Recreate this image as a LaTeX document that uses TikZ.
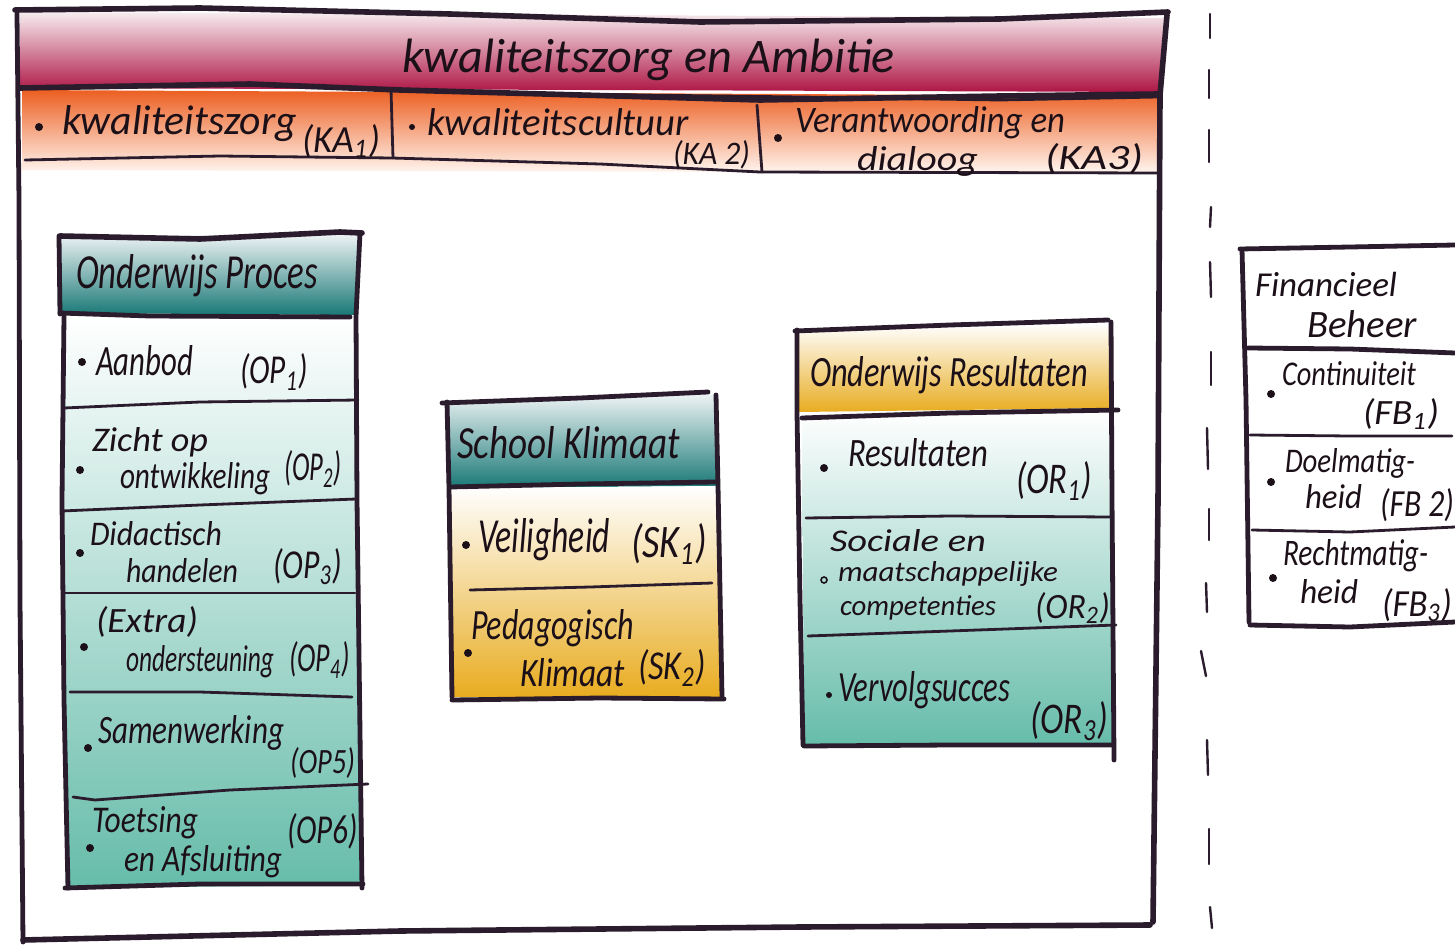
\documentclass[tikz,border=0pt]{standalone}
\usepackage{fontspec}
\usepackage{graphicx}
\setmainfont{Carlito}
\newdimen\pxu \pxu=0.5pt
\newcommand{\fitw}[2]{\resizebox{#1\pxu}{!}{#2}}
\newcommand{\fitwh}[3]{\resizebox{#1\pxu}{#2\pxu}{#3}}
\newcommand{\sbs}[1]{\textsubscript{#1}}
\definecolor{ink}{HTML}{2A1C2C}
\definecolor{textink}{HTML}{1C1018}
\definecolor{crimson}{HTML}{AE1545}
\definecolor{pinktop}{HTML}{F7EDF0}
\definecolor{orangetop}{HTML}{EC5F22}
\definecolor{orangebot}{HTML}{FFF6F0}
\definecolor{tealdark}{HTML}{187876}
\definecolor{tealtop}{HTML}{EEF3F4}
\definecolor{tealbody}{HTML}{66BCAA}
\definecolor{amber}{HTML}{E8AC20}
\tikzset{
  ink/.style={draw=ink,line width=2.4pt,line cap=round,line join=round},
  inkthin/.style={draw=ink,line width=1.4pt,line cap=round,line join=round},
  inkfat/.style={draw=ink,line width=2.8pt,line cap=round,line join=round},
  hw/.style={anchor=west,inner sep=0pt,outer sep=0pt,text=textink,font=\itshape},
  bul/.style={circle,fill=textink,inner sep=0pt,minimum size=4pt},
  dashmark/.style={draw=ink,line width=1.2pt,line cap=round}
}
\begin{document}
\begin{tikzpicture}[x=0.5pt,y=-0.5pt]
\useasboundingbox (0,0) rectangle (1455,947);
\fill[white] (0,0) rectangle (1455,947);
% colour bands
\shade[top color=pinktop,bottom color=crimson] (20,12) -- (1165,18) -- (1160,92) -- (20,88) -- cycle;
\shade[top color=orangetop,bottom color=orangebot] (22,90) -- (1158,96) -- (1158,173) -- (22,170) -- cycle;
\shade[top color=tealtop,bottom color=tealdark] (60,236) -- (360,234) -- (358,315) -- (60,313) -- cycle;
\shade[top color=white,middle color=white!72!tealbody,bottom color=tealbody] (64,316) -- (357,316) -- (362,885) -- (66,888) -- cycle;
\shade[top color=tealtop,bottom color=tealdark] (447,402) -- (716,394) -- (718,486) -- (449,488) -- cycle;
\shade[top color=white,bottom color=amber] (450,488) -- (718,486) -- (722,697) -- (452,697) -- cycle;
\shade[top color=white,bottom color=amber] (797,332) -- (1110,324) -- (1110,408) -- (799,412) -- cycle;
\shade[top color=white,bottom color=tealbody] (802,414) -- (1112,410) -- (1113,745) -- (804,745) -- cycle;
% outer frame
\draw[inkfat] (15,10) -- (200,8) -- (450,14) -- (700,22) -- (1000,19) -- (1168,12);
\draw[ink] (17,14) -- (19,200) -- (20,600) -- (23,942);
\draw[inkfat] (1167,15) -- (1160,95) -- (1158,500) -- (1153,922);
\draw[inkfat] (23,940) -- (400,931) -- (800,927) -- (1150,925);
\draw[inkfat] (20,88) -- (250,84) -- (400,90) -- (760,100) -- (1000,96) -- (1158,94);
\draw[inkthin] (560,94) -- (800,97) -- (1000,100) -- (1158,97);
\draw[inkthin] (25,160) -- (220,156) -- (392,158) -- (600,164) -- (760,172) -- (1158,173);
\draw[inkthin] (391,90) -- (393,158);
\draw[inkthin] (757,105) -- (762,172);
% dashed separator
\draw[dashmark] (1210,14) -- (1210,38);
\draw[dashmark] (1209,70) -- (1209,98);
\draw[dashmark] (1209,130) -- (1209,162);
\draw[dashmark] (1211,207) -- (1210,227);
\draw[dashmark] (1210,262) -- (1211,297);
\draw[dashmark] (1211,352) -- (1211,385);
\draw[dashmark] (1207,428) -- (1208,469);
\draw[dashmark] (1209,509) -- (1209,540);
\draw[dashmark] (1206,583) -- (1207,612);
\draw[dashmark] (1201,651) -- (1206,676);
\draw[dashmark] (1207,740) -- (1208,775);
\draw[dashmark] (1209,829) -- (1209,864);
\draw[dashmark] (1210,907) -- (1212,928);
% Onderwijs Proces box
\draw[inkfat] (60,236) -- (200,239) -- (340,232) -- (362,233);
\draw[ink] (59,236) -- (60,314) ;
\draw[ink] (360,233) -- (356,316) -- (357,500) -- (362,888);
\draw[ink] (64,316) -- (62,500) -- (64,700) -- (68,888);
\draw[ink] (60,313) -- (150,316) -- (350,317);
\draw[inkthin] (64,408) -- (200,402) -- (358,400);
\draw[inkthin] (62,511) -- (200,505) -- (356,499);
\draw[inkthin] (62,593) -- (200,593) -- (355,593);
\draw[inkthin] (70,692) -- (200,692) -- (352,697);
\draw[inkthin] (73,797) -- (95,800) -- (230,790) -- (368,784);
\draw[ink] (65,888) -- (200,884) -- (363,884);
% School Klimaat box
\draw[ink] (442,403) -- (580,398) -- (708,392);
\draw[ink] (447,402) -- (449,488) -- (452,697);
\draw[ink] (716,395) -- (718,486) -- (722,697);
\draw[ink] (450,487) -- (580,484) -- (715,482);
\draw[inkthin] (470,590) -- (590,587) -- (712,583);
\draw[ink] (452,700) -- (600,698) -- (724,699);
% Onderwijs Resultaten box
\draw[ink] (795,331) -- (950,325) -- (1108,320);
\draw[ink] (797,330) -- (797,412) -- (800,600) -- (803,745);
\draw[ink] (1111,322) -- (1112,500) -- (1114,760);
\draw[ink] (802,418) -- (950,413) -- (1118,410);
\draw[inkthin] (806,518) -- (950,516) -- (1112,517);
\draw[inkthin] (808,636) -- (950,631) -- (1116,625);
\draw[ink] (804,746) -- (950,745) -- (1113,745);
% Financieel Beheer box
\draw[ink] (1240,249) -- (1350,247) -- (1455,245);
\draw[ink] (1242,250) -- (1246,400) -- (1249,622);
\draw[ink] (1248,348) -- (1350,349) -- (1455,353);
\draw[inkthin] (1250,435) -- (1350,436) -- (1452,436);
\draw[inkthin] (1252,530) -- (1350,532) -- (1455,527);
\draw[ink] (1250,625) -- (1350,627) -- (1455,622);
% headings
\node[hw] (title) at (402,60) {\fitw{493}{kwaliteitszorg en Ambitie}};
\node[hw] (ophead) at (76,276) {\fitwh{242}{34}{Onderwijs Proces}};
\node[hw] (skhead) at (457,443) {\fitwh{223}{32}{School Klimaat}};
\node[hw] (orhead) at (810,375) {\fitwh{278}{30}{Onderwijs Resultaten}};
\node[hw] (fbhead1) at (1255,284) {\fitw{142}{Financieel}};
\node[hw] (fbhead2) at (1307,324) {\fitw{110}{Beheer}};
% KA row
\node[bul] (b1) at (39,127) {};
\node[hw] (ka1) at (62,124) {\fitw{235}{kwaliteitszorg}};
\node[hw] (ka1c) at (302,141) {\fitwh{78}{28}{(KA\sbs{1})}};
\node[bul,minimum size=3pt] (b2) at (412,127) {};
\node[hw] (ka2) at (427,122) {\fitw{262}{kwaliteitscultuur}};
\node[hw] (ka2c) at (673,155) {\fitwh{77}{24}{(KA 2)}};
\node[bul] (b3) at (778,138) {};
\node[hw] (ka3a) at (795,123) {\fitwh{270}{26}{Verantwoording en}};
\node[hw] (ka3b) at (857,161) {\fitwh{121}{24}{dialoog}};
\node[hw] (ka3c) at (1045,159) {\fitwh{98}{26}{(KA3)}};
% OP rows
\node[bul] (bo1) at (82,362) {};
\node[hw] (op1) at (96,361) {\fitwh{97}{30}{Aanbod}};
\node[hw] (op1c) at (240,372) {\fitwh{68}{30}{(OP\sbs{1})}};
\node[bul] (bo2) at (80,470) {};
\node[hw] (op2a) at (92,442) {\fitwh{116}{24}{Zicht op}};
\node[hw] (op2b) at (120,479) {\fitwh{150}{26}{ontwikkeling}};
\node[hw] (op2c) at (284,469) {\fitwh{58}{30}{(OP\sbs{2})}};
\node[bul] (bo3) at (80,553) {};
\node[hw] (op3a) at (90,534) {\fitwh{132}{24}{Didactisch}};
\node[hw] (op3b) at (126,571) {\fitwh{112}{24}{handelen}};
\node[hw] (op3c) at (273,567) {\fitwh{69}{30}{(OP\sbs{3})}};
\node[bul] (bo4) at (84,647) {};
\node[hw] (op4a) at (96,622) {\fitwh{102}{26}{(Extra)}};
\node[hw] (op4b) at (126,662) {\fitwh{148}{26}{ondersteuning}};
\node[hw] (op4c) at (289,660) {\fitwh{61}{30}{(OP\sbs{4})}};
\node[bul] (bo5) at (88,748) {};
\node[hw] (op5) at (98,733) {\fitwh{186}{28}{Samenwerking}};
\node[hw] (op5c) at (290,763) {\fitwh{65}{26}{(OP5)}};
\node[bul] (bo6) at (90,848) {};
\node[hw] (op6a) at (92,823) {\fitwh{106}{26}{Toetsing}};
\node[hw] (op6b) at (124,862) {\fitwh{158}{26}{en Afsluiting}};
\node[hw] (op6c) at (287,831) {\fitwh{71}{30}{(OP6)}};
% SK rows
\node[bul] (bs1) at (466,545) {};
\node[hw] (sk1) at (478,540) {\fitwh{132}{34}{Veiligheid}};
\node[hw] (sk1c) at (631,544) {\fitwh{76}{34}{(SK\sbs{1})}};
\node[bul] (bs2) at (468,653) {};
\node[hw] (sk2a) at (471,628) {\fitwh{163}{30}{Pedagogisch}};
\node[hw] (sk2b) at (520,673) {\fitwh{105}{28}{Klimaat}};
\node[hw] (sk2c) at (638,668) {\fitwh{68}{30}{(SK\sbs{2})}};
% OR rows
\node[bul] (br1) at (824,468) {};
\node[hw] (or1) at (848,453) {\fitwh{140}{28}{Resultaten}};
\node[hw] (or1c) at (1016,481) {\fitwh{76}{32}{(OR\sbs{1})}};
\node[bul,fill=none,draw=textink,line width=0.8pt,minimum size=3pt] (br2) at (824,580) {};
\node[hw] (or2a) at (830,541) {\fitwh{156}{22}{Sociale en}};
\node[hw] (or2b) at (838,574) {\fitwh{220}{20}{maatschappelijke}};
\node[hw] (or2d) at (840,608) {\fitwh{156}{20}{competenties}};
\node[hw] (or2c) at (1035,608) {\fitwh{75}{26}{(OR\sbs{2})}};
\node[bul,minimum size=3pt] (br3) at (829,695) {};
\node[hw] (or3) at (838,690) {\fitwh{172}{30}{Vervolgsucces}};
\node[hw] (or3c) at (1030,721) {\fitwh{78}{32}{(OR\sbs{3})}};
% FB rows
\node[bul] (bf1) at (1271,394) {};
\node[hw] (fb1) at (1282,374) {\fitwh{134}{24}{Continuiteit}};
\node[hw] (fb1c) at (1363,414) {\fitwh{76}{26}{(FB\sbs{1})}};
\node[bul] (bf2) at (1271,482) {};
\node[hw] (fb2a) at (1285,463) {\fitwh{130}{24}{Doelmatig-}};
\node[hw] (fb2b) at (1305,497) {\fitwh{57}{24}{heid}};
\node[hw] (fb2c) at (1380,505) {\fitwh{74}{28}{(FB 2)}};
\node[bul] (bf3) at (1273,578) {};
\node[hw] (fb3a) at (1283,556) {\fitwh{145}{26}{Rechtmatig-}};
\node[hw] (fb3b) at (1300,592) {\fitwh{58}{24}{heid}};
\node[hw] (fb3c) at (1382,605) {\fitwh{70}{28}{(FB\sbs{3})}};
\end{tikzpicture}
\end{document}
